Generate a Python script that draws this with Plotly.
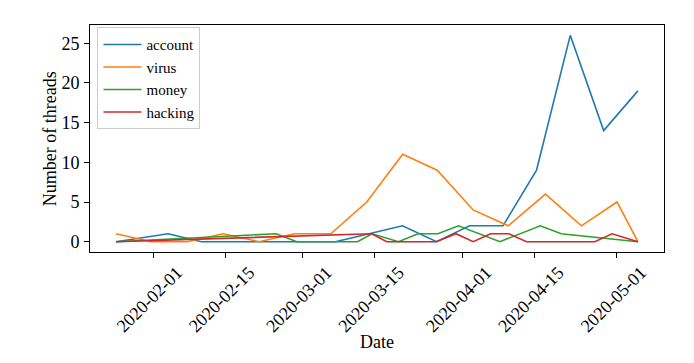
import pandas as pd
import plotly.graph_objects as go

# ---- data ----
account_dates = ["2020-01-24 20:00", "2020-02-03 22:00", "2020-02-10 09:30", "2020-03-07 09:30",
                 "2020-03-13 21:30", "2020-03-20 09:30", "2020-03-27 00:00", "2020-04-02 09:30",
                 "2020-04-08 21:30", "2020-04-15 09:30", "2020-04-21 22:30", "2020-04-28 10:00",
                 "2020-05-05 01:30"]
account_vals = [0, 1, 0, 0, 1, 2, 0, 2, 2, 9, 26, 14, 19]

virus_dates = ["2020-01-24 20:00", "2020-01-31 15:00", "2020-02-07 14:00", "2020-02-14 13:30",
               "2020-02-21 13:00", "2020-02-28 12:00", "2020-03-06 11:30", "2020-03-13 11:00",
               "2020-03-20 10:30", "2020-03-27 03:00", "2020-04-03 02:30", "2020-04-09 21:30",
               "2020-04-17 03:00", "2020-04-24 02:30", "2020-05-01 00:00", "2020-05-05 01:30"]
virus_vals = [1, 0, 0, 1, 0, 1, 1, 5, 11, 9, 4, 2, 6, 2, 5, 0]

money_dates = ["2020-01-24 20:00", "2020-02-24 21:00", "2020-02-28 21:30", "2020-03-11 16:00",
               "2020-03-14 11:30", "2020-03-19 15:00", "2020-03-23 09:30", "2020-03-27 06:30",
               "2020-03-31 06:00", "2020-04-08 07:00", "2020-04-16 03:00", "2020-04-20 04:30",
               "2020-05-05 01:30"]
money_vals = [0, 1, 0, 0, 1, 0, 1, 1, 2, 0, 2, 1, 0]

hacking_dates = ["2020-01-24 20:00", "2020-03-14 10:00", "2020-03-17 08:00", "2020-03-26 23:30",
                 "2020-03-30 18:00", "2020-04-03 02:30", "2020-04-06 11:30", "2020-04-10 00:30",
                 "2020-04-13 11:00", "2020-04-26 16:30", "2020-04-30 01:30", "2020-05-05 01:30"]
hacking_vals = [0, 1, 0, 0, 1, 0, 1, 1, 0, 0, 1, 0]

series_names = ["account", "virus", "money", "hacking"]
x_tick_labels = ["2020-02-01", "2020-02-15", "2020-03-01", "2020-03-15",
                 "2020-04-01", "2020-04-15", "2020-05-01"]
y_tick_vals = [0, 5, 10, 15, 20, 25]
x_title = "Date"
y_title = "Number of threads"

colors = ["#1f77b4", "#ff7f0e", "#2ca02c", "#d62728"]
FONT = "Liberation Serif"

all_dates = [account_dates, virus_dates, money_dates, hacking_dates]
all_vals = [account_vals, virus_vals, money_vals, hacking_vals]

fig = go.Figure()
for name, d, v, c in zip(series_names, all_dates, all_vals, colors):
    fig.add_trace(go.Scatter(x=pd.to_datetime(d), y=v, mode="lines", name=name,
                             line=dict(color=c, width=1.6)))

# matplotlib-like 5% margins
ts = pd.to_datetime(sum(all_dates, []))
xmin, xmax = ts.min(), ts.max()
pad = (xmax - xmin) * 0.05
vmax = max(max(v) for v in all_vals)
vmin = min(min(v) for v in all_vals)
ypad = (vmax - vmin) * 0.05

# the page body adds an 8px margin, so the figure is 8px smaller on each axis
fig.update_layout(
    width=686, height=355,
    margin=dict(l=81.5, r=30, t=16.5, b=110.7),
    paper_bgcolor="white", plot_bgcolor="white",
    font=dict(family=FONT, size=18, color="black"),
    showlegend=True,
    legend=dict(x=0.013, y=0.99, xanchor="left", yanchor="top",
                bgcolor="rgba(255,255,255,0.8)", bordercolor="#cccccc", borderwidth=1,
                font=dict(family=FONT, size=15, color="black"),
                tracegroupgap=0, itemwidth=38),
    annotations=[
        dict(text=x_title, xref="paper", yref="paper", x=0.5, y=-0.398,
             xanchor="center", yanchor="middle", showarrow=False,
             font=dict(family=FONT, size=18, color="black")),
        dict(text=y_title, xref="paper", yref="paper", x=-0.0701, y=0.5,
             xanchor="center", yanchor="middle", showarrow=False, textangle=-90,
             font=dict(family=FONT, size=18, color="black")),
    ],
)
fig.update_xaxes(
    automargin=False,
    range=[xmin - pad, xmax + pad],
    tickvals=pd.to_datetime(x_tick_labels), ticktext=x_tick_labels,
    tickangle=-45, ticks="outside", ticklen=5, tickwidth=1, tickcolor="black",
    ticklabelshift=24, ticklabelstandoff=-3,
    showline=True, linecolor="black", linewidth=1, mirror=True,
    showgrid=False, zeroline=False,
    tickfont=dict(family=FONT, size=18),
)
fig.update_yaxes(
    automargin=False,
    range=[vmin - ypad, vmax + ypad],
    tickvals=y_tick_vals, ticks="outside", ticklen=5, tickwidth=1, tickcolor="black",
    ticklabelstandoff=1,
    showline=True, linecolor="black", linewidth=1, mirror=True,
    showgrid=False, zeroline=False,
    tickfont=dict(family=FONT, size=18),
)

fig.write_html("out.html")
